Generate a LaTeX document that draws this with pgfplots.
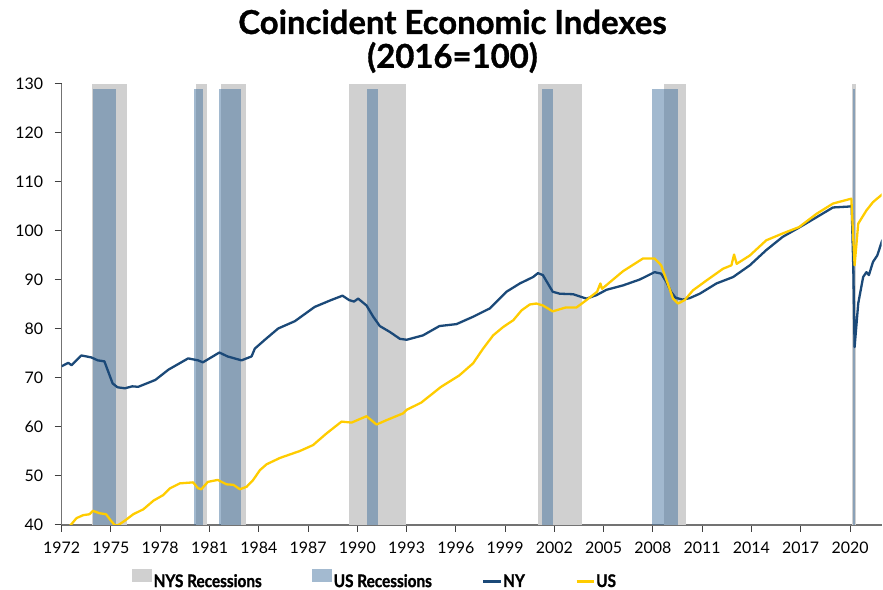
\documentclass[border=0pt]{standalone}
\usepackage{fontspec}
\setmainfont{Lato}
\newfontfamily\legfont[FakeStretch=0.88,FakeBold=1.2]{Lato}
\newfontfamily\titlefont[FakeBold=1.0]{Lato}
\usepackage{pgfplots}
\pgfplotsset{compat=1.18}
\definecolor{nysgray}{RGB}{208,208,208}
\definecolor{usblue}{RGB}{70,115,160}
\definecolor{uslight}{RGB}{163,186,208}
\definecolor{nyblue}{RGB}{27,73,120}
\definecolor{usgold}{RGB}{255,204,0}
\pgfplotsset{
  boxleg/.style={legend image code/.code={\fill[##1, draw=none] (0bp,-1bp) rectangle (20bp,12bp);}},
  lineleg/.style={legend image code/.code={\draw[##1] (0bp,5.5bp) -- (22bp,5.5bp);}},
}
\begin{document}
\begin{tikzpicture}
\path[use as bounding box] (-61.7bp,-65bp) rectangle (821.3bp,525bp);
\begin{axis}[
  scale only axis, width=820bp, height=441bp,
  at={(0,0)}, anchor=south west,
  xmin=1972, xmax=2021.93, ymin=40, ymax=130,
  axis lines*=left,
  axis line style={draw=black!55, line width=1.3bp},
  tick align=outside,
  major tick length=7bp,
  tick style={draw=black!75, line width=1bp},
  xtick={1972,1975,...,2020},
  ytick={40,50,...,130},
  /pgf/number format/1000 sep={},
  /pgf/number format/assume math mode=true,
  tick label style={font=\fontsize{16}{16}\selectfont},
  yticklabel style={xshift=-8bp},
  xticklabel style={yshift=-6bp},
  title={Coincident Economic Indexes\\(2016=100)},
  title style={at={(0.4766,1)}, anchor=south, align=center, font=\titlefont\fontsize{33}{34}\selectfont\bfseries, yshift=1.5bp},
  legend columns=4,
  legend style={at={(0.082,-0.1247)}, anchor=west, draw=none, fill=none,
     font=\legfont\bfseries\fontsize{17.5}{17.5}\selectfont,
     /tikz/every even column/.append style={column sep=49bp},
     nodes={inner xsep=1.5bp}},
  legend cell align=left,
  clip=true,
]
% NYS recessions
\addplot[fill=nysgray, draw=none, forget plot] coordinates {(1973.83,40) (1973.83,130) (1975.96,130) (1975.96,40)} -- cycle;
\addplot[fill=nysgray, draw=none, forget plot] coordinates {(1980.17,40) (1980.17,130) (1980.83,130) (1980.83,40)} -- cycle;
\addplot[fill=nysgray, draw=none, forget plot] coordinates {(1981.68,40) (1981.68,130) (1983.22,130) (1983.22,40)} -- cycle;
\addplot[fill=nysgray, draw=none, forget plot] coordinates {(1989.49,40) (1989.49,130) (1992.99,130) (1992.99,40)} -- cycle;
\addplot[fill=nysgray, draw=none, forget plot] coordinates {(2000.99,40) (2000.99,130) (2003.71,130) (2003.71,40)} -- cycle;
\addplot[fill=nysgray, draw=none, forget plot] coordinates {(2008.66,40) (2008.66,130) (2010.04,130) (2010.04,40)} -- cycle;
\addplot[fill=nysgray, draw=none, forget plot] coordinates {(2020.14,40) (2020.14,130) (2020.39,130) (2020.39,40)} -- cycle;
% US recessions
\addplot[fill=usblue, fill opacity=0.5, draw=none, forget plot] coordinates {(1973.92,40) (1973.92,129) (1975.29,129) (1975.29,40)} -- cycle;
\addplot[fill=usblue, fill opacity=0.5, draw=none, forget plot] coordinates {(1980.08,40) (1980.08,129) (1980.58,129) (1980.58,40)} -- cycle;
\addplot[fill=usblue, fill opacity=0.5, draw=none, forget plot] coordinates {(1981.58,40) (1981.58,129) (1982.92,129) (1982.92,40)} -- cycle;
\addplot[fill=usblue, fill opacity=0.5, draw=none, forget plot] coordinates {(1990.58,40) (1990.58,129) (1991.25,129) (1991.25,40)} -- cycle;
\addplot[fill=usblue, fill opacity=0.5, draw=none, forget plot] coordinates {(2001.25,40) (2001.25,129) (2001.92,129) (2001.92,40)} -- cycle;
\addplot[fill=usblue, fill opacity=0.5, draw=none, forget plot] coordinates {(2007.95,40) (2007.95,129) (2009.50,129) (2009.50,40)} -- cycle;
\addplot[fill=usblue, fill opacity=0.5, draw=none, forget plot] coordinates {(2020.17,40) (2020.17,129) (2020.33,129) (2020.33,40)} -- cycle;
% legend images
\addlegendimage{boxleg, fill=nysgray}
\addlegendentry{NYS Recessions}
\addlegendimage{boxleg, fill=uslight}
\addlegendentry{US Recessions}
% NY
\addplot[nyblue, line width=2.3bp, line join=round] coordinates {
(1972.0,72.4) (1972.4,73.1) (1972.6,72.6) (1973.2,74.6) (1973.8,74.2) (1974.2,73.6)
(1974.6,73.4) (1974.8,71.6) (1975.1,68.9) (1975.4,68.1) (1975.85,67.9) (1976.3,68.3)
(1976.66,68.2) (1977.7,69.6) (1978.5,71.7) (1979.7,74.0) (1980.3,73.6) (1980.6,73.2)
(1981.6,75.2) (1982.1,74.4) (1982.95,73.6) (1983.56,74.4) (1983.76,76.0) (1984.37,77.8)
(1985.18,80.1) (1986.2,81.6) (1987.4,84.5) (1988.4,85.9) (1989.1,86.8) (1989.5,85.9)
(1989.8,85.6) (1990.05,86.2) (1990.56,84.8) (1990.97,82.5) (1991.37,80.6) (1991.98,79.4)
(1992.59,78.0) (1993.0,77.8) (1994.0,78.7) (1995.0,80.6) (1996.04,81.0) (1997.05,82.5)
(1998.07,84.2) (1999.08,87.6) (1999.9,89.3) (2000.7,90.6) (2001.0,91.4) (2001.3,91.0)
(2001.6,89.3) (2001.9,87.6) (2002.33,87.2) (2003.14,87.1) (2003.95,86.2) (2004.56,86.9)
(2005.17,88.0) (2006.18,88.9) (2007.2,90.1) (2008.1,91.6) (2008.5,91.3) (2008.82,89.6)
(2009.1,87.6) (2009.37,86.4) (2009.8,86.0) (2010.24,86.3) (2010.85,87.2) (2011.87,89.3)
(2012.88,90.6) (2013.9,93.0) (2014.9,96.1) (2015.9,98.8) (2016.9,100.7) (2017.96,102.8)
(2018.96,104.8) (2020.0,105.0) (2020.1,105.2) (2020.2,92.6) (2020.28,76.3) (2020.5,85.2)
(2020.8,90.6) (2021.0,91.6) (2021.15,91.0) (2021.4,93.7) (2021.66,95.0) (2021.97,98.2)
};
\addlegendentry{NY}
% US
\addplot[usgold, line width=2.3bp, line join=round] coordinates {
(1972.0,38.6) (1972.5,39.8) (1972.9,41.4) (1973.3,42.0) (1973.7,42.2) (1973.9,42.9)
(1974.3,42.4) (1974.7,42.2) (1975.04,40.7) (1975.25,39.9) (1975.45,40.0) (1975.85,40.9)
(1976.36,42.2) (1976.97,43.2) (1977.6,45.0) (1978.18,46.1) (1978.6,47.5) (1979.2,48.5)
(1980.0,48.7) (1980.3,47.5) (1980.5,47.3) (1980.9,48.8) (1981.5,49.2) (1982.04,48.3)
(1982.45,48.2) (1982.85,47.3) (1983.26,47.8) (1983.66,49.2) (1984.07,51.2) (1984.48,52.4)
(1985.3,53.7) (1986.5,55.1) (1987.3,56.3) (1988.13,58.7) (1989.04,61.1) (1989.65,60.9)
(1990.56,62.2) (1991.17,60.5) (1991.78,61.4) (1992.8,62.8) (1993.0,63.5) (1993.9,65.0)
(1995.1,68.2) (1996.2,70.5) (1997.05,73.0) (1997.66,76.0) (1998.27,78.7) (1998.88,80.4)
(1999.5,81.8) (2000.0,83.8) (2000.5,85.0) (2000.9,85.2) (2001.3,84.8) (2001.9,83.6)
(2002.7,84.4) (2003.35,84.4) (2003.95,85.9) (2004.6,87.6) (2004.8,89.3) (2004.9,88.2)
(2006.18,91.8) (2007.4,94.4) (2008.1,94.4) (2008.5,93.0) (2008.9,89.3) (2009.22,86.2)
(2009.53,85.2) (2009.93,85.9) (2010.44,87.9) (2011.26,89.9) (2012.27,92.3) (2012.78,93.0)
(2012.94,95.2) (2013.1,93.3) (2013.9,95.0) (2014.9,98.1) (2015.9,99.5) (2016.9,100.8)
(2017.96,103.5) (2018.96,105.6) (2020.08,106.6) (2020.28,93.0) (2020.5,101.5) (2021.0,104.2)
(2021.4,105.9) (2021.97,107.5)
};
\addlegendentry{US}
\end{axis}
\end{tikzpicture}
\end{document}
